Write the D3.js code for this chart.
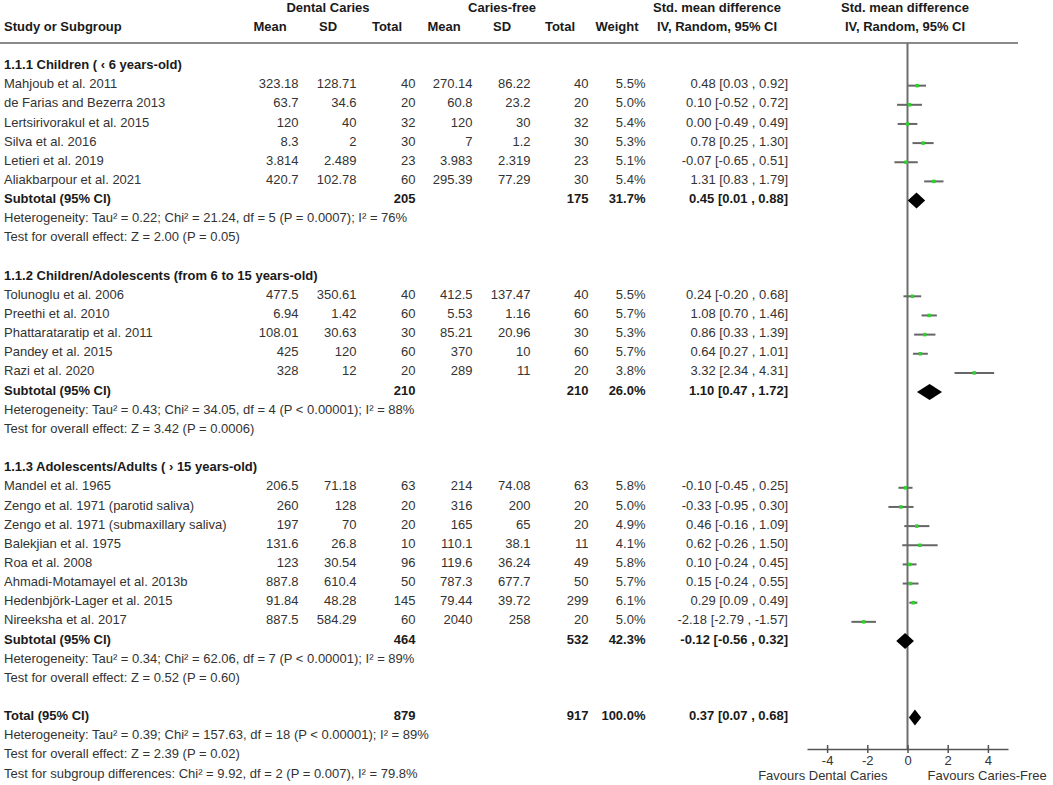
<!DOCTYPE html>
<html>
<head>
<meta charset="utf-8">
<script src="https://cdn.jsdelivr.net/npm/d3@7"></script>
<style>
  body { margin: 0; background: #fff; }
  svg text { font-family: "Liberation Sans", Arial, sans-serif; font-size: 13px; fill: #333; }
  svg text.b { font-weight: bold; fill: #1a1a1a; }
</style>
</head>
<body>
<script>
const groupNames = ["1.1.1 Children ( \u2039 6 years-old)", "1.1.2 Children/Adolescents (from 6 to 15 years-old)", "1.1.3 Adolescents/Adults ( \u203a 15 years-old)"];

const studies = ["Mahjoub et al. 2011", "de Farias and Bezerra 2013", "Lertsirivorakul et al. 2015", "Silva et al. 2016", "Letieri et al. 2019", "Aliakbarpour et al. 2021",
  "Tolunoglu et al. 2006", "Preethi et al. 2010", "Phattarataratip et al. 2011", "Pandey et al. 2015", "Razi et al. 2020",
  "Mandel et al. 1965", "Zengo et al. 1971 (parotid saliva)", "Zengo et al. 1971 (submaxillary saliva)", "Balekjian et al. 1975", "Roa et al. 2008", "Ahmadi-Motamayel et al. 2013b", "Hedenbj\u00f6rk-Lager et al. 2015", "Nireeksha et al. 2017"];
const studyGroup = [0, 0, 0, 0, 0, 0, 1, 1, 1, 1, 1, 2, 2, 2, 2, 2, 2, 2, 2];

const meanDC = [323.18, 63.7, 120, 8.3, 3.814, 420.7, 477.5, 6.94, 108.01, 425, 328, 206.5, 260, 197, 131.6, 123, 887.8, 91.84, 887.5];
const sdDC = [128.71, 34.6, 40, 2, 2.489, 102.78, 350.61, 1.42, 30.63, 120, 12, 71.18, 128, 70, 26.8, 30.54, 610.4, 48.28, 584.29];
const nDC = [40, 20, 32, 30, 23, 60, 40, 60, 30, 60, 20, 63, 20, 20, 10, 96, 50, 145, 60];
const meanCF = [270.14, 60.8, 120, 7, 3.983, 295.39, 412.5, 5.53, 85.21, 370, 289, 214, 316, 165, 110.1, 119.6, 787.3, 79.44, 2040];
const sdCF = [86.22, 23.2, 30, 1.2, 2.319, 77.29, 137.47, 1.16, 20.96, 10, 11, 74.08, 200, 65, 38.1, 36.24, 677.7, 39.72, 258];
const nCF = [40, 20, 32, 30, 23, 30, 40, 60, 30, 60, 20, 63, 20, 20, 11, 49, 50, 299, 20];
const weight = [5.5, 5.0, 5.4, 5.3, 5.1, 5.4, 5.5, 5.7, 5.3, 5.7, 3.8, 5.8, 5.0, 4.9, 4.1, 5.8, 5.7, 6.1, 5.0];
const smd = [0.48, 0.10, 0.00, 0.78, -0.07, 1.31, 0.24, 1.08, 0.86, 0.64, 3.32, -0.10, -0.33, 0.46, 0.62, 0.10, 0.15, 0.29, -2.18];
const smdLo = [0.03, -0.52, -0.49, 0.25, -0.65, 0.83, -0.20, 0.70, 0.33, 0.27, 2.34, -0.45, -0.95, -0.16, -0.26, -0.24, -0.24, 0.09, -2.79];
const smdHi = [0.92, 0.72, 0.49, 1.30, 0.51, 1.79, 0.68, 1.46, 1.39, 1.01, 4.31, 0.25, 0.30, 1.09, 1.50, 0.45, 0.55, 0.49, -1.57];

const subTotalDC = [205, 210, 464];
const subTotalCF = [175, 210, 532];
const subWeight = [31.7, 26.0, 42.3];
const subSmd = [0.45, 1.10, -0.12];
const subLo = [0.01, 0.47, -0.56];
const subHi = [0.88, 1.72, 0.32];
const subHet = ["Heterogeneity: Tau\u00b2 = 0.22; Chi\u00b2 = 21.24, df = 5 (P = 0.0007); I\u00b2 = 76%",
  "Heterogeneity: Tau\u00b2 = 0.43; Chi\u00b2 = 34.05, df = 4 (P < 0.00001); I\u00b2 = 88%",
  "Heterogeneity: Tau\u00b2 = 0.34; Chi\u00b2 = 62.06, df = 7 (P < 0.00001); I\u00b2 = 89%"];
const subTest = ["Test for overall effect: Z = 2.00 (P = 0.05)", "Test for overall effect: Z = 3.42 (P = 0.0006)", "Test for overall effect: Z = 0.52 (P = 0.60)"];

const totalDC = 879, totalCF = 917, totalWeight = 100.0;
const totalSmd = 0.37, totalLo = 0.07, totalHi = 0.68;
const totalNotes = ["Heterogeneity: Tau\u00b2 = 0.39; Chi\u00b2 = 157.63, df = 18 (P < 0.00001); I\u00b2 = 89%",
  "Test for overall effect: Z = 2.39 (P = 0.02)",
  "Test for subgroup differences: Chi\u00b2 = 9.92, df = 2 (P = 0.007), I\u00b2 = 79.8%"];

const xTicks = [-4, -2, 0, 2, 4];

const W = 1053;
const H = 785;
const top0 = 64.5;
const rowH = 19.15;
const markDy = 2;
const axisY = 749;
// column header centres; numbers sit right-aligned a bit further right
const colX = [270, 328, 387, 444, 502, 560];
const numShift = 28.5;
const weightX = 617;
const ciX = 717;
const ciRight = 788;
const plotX = 905;

const svg = d3.select("body")
  .append("svg")
  .attr("width", W)
  .attr("height", H);

const x = d3.scaleLinear()
  .domain([-5, 5])
  .range([807, 1008]);

function txt(xp, yp, s, anchor, bold) {
  return svg.append("text")
    .attr("x", xp)
    .attr("y", yp)
    .attr("dy", "0.35em")
    .attr("text-anchor", anchor)
    .attr("class", bold ? "b" : null)
    .text(s);
}

// headers
txt(328, 7, "Dental Caries", "middle", true);
txt(502, 7, "Caries-free", "middle", true);
txt(ciX, 7, "Std. mean difference", "middle", true);
txt(plotX, 7, "Std. mean difference", "middle", true);
txt(4, 26, "Study or Subgroup", "start", true);
["Mean", "SD", "Total", "Mean", "SD", "Total"].forEach((h, i) => txt(colX[i], 26, h, "middle", true));
txt(weightX, 26, "Weight", "middle", true);
txt(ciX, 26, "IV, Random, 95% CI", "middle", true);
txt(plotX, 26, "IV, Random, 95% CI", "middle", true);

svg.append("line")
  .attr("x1", 0).attr("x2", 1018)
  .attr("y1", 43).attr("y2", 43)
  .attr("stroke", "#8a8a8a")
  .attr("stroke-width", 2);

// zero line
svg.append("line")
  .attr("x1", x(0)).attr("x2", x(0))
  .attr("y1", 43).attr("y2", axisY)
  .attr("stroke", "#6e6e6e")
  .attr("stroke-width", 2);

// build rows
const rows = [];
let k = 0;
groupNames.forEach((g, gi) => {
  rows.push({ type: "head", k: k++, text: g });
  studies.forEach((s, i) => {
    if (studyGroup[i] === gi) rows.push({ type: "study", k: k++, i: i });
  });
  rows.push({ type: "sub", k: k++, gi: gi });
  rows.push({ type: "note", k: k++, text: subHet[gi] });
  rows.push({ type: "note", k: k++, text: subTest[gi] });
  k++;
});
rows.push({ type: "total", k: k++ });
totalNotes.forEach(t => rows.push({ type: "note", k: k++, text: t }));

const ciText = (m, l, h) => `${m.toFixed(2)} [${l.toFixed(2)} , ${h.toFixed(2)}]`;

function diamond(yc, m, l, h) {
  const hh = 8;
  svg.append("path")
    .attr("d", `M${x(l)},${yc} L${x(m)},${yc - hh} L${x(h)},${yc} L${x(m)},${yc + hh} Z`)
    .attr("fill", "#000");
}

rows.forEach(r => {
  const y = top0 + r.k * rowH;
  if (r.type === "head") {
    txt(4, y, r.text, "start", true);
  } else if (r.type === "note") {
    txt(4, y, r.text, "start", false);
  } else if (r.type === "study") {
    const i = r.i;
    txt(4, y, studies[i], "start", false);
    [meanDC[i], sdDC[i], nDC[i], meanCF[i], sdCF[i], nCF[i]].forEach((v, c) => {
      txt(colX[c] + numShift, y, String(v), "end", false);
    });
    txt(weightX + numShift, y, weight[i].toFixed(1) + "%", "end", false);
    txt(ciRight, y, ciText(smd[i], smdLo[i], smdHi[i]), "end", false);
    svg.append("line")
      .attr("x1", x(smdLo[i])).attr("x2", x(smdHi[i]))
      .attr("y1", y + markDy).attr("y2", y + markDy)
      .attr("stroke", "#666")
      .attr("stroke-width", 2);
    svg.append("rect")
      .attr("x", x(smd[i]) - 1.75)
      .attr("y", y + markDy - 1.75)
      .attr("width", 3.5).attr("height", 3.5)
      .attr("fill", "#2ed12e");
  } else if (r.type === "sub") {
    const g = r.gi;
    txt(4, y, "Subtotal (95% CI)", "start", true);
    txt(colX[2] + numShift, y, String(subTotalDC[g]), "end", true);
    txt(colX[5] + numShift, y, String(subTotalCF[g]), "end", true);
    txt(weightX + numShift, y, subWeight[g].toFixed(1) + "%", "end", true);
    txt(ciRight, y, ciText(subSmd[g], subLo[g], subHi[g]), "end", true);
    diamond(y + markDy, subSmd[g], subLo[g], subHi[g]);
  } else if (r.type === "total") {
    txt(4, y, "Total (95% CI)", "start", true);
    txt(colX[2] + numShift, y, String(totalDC), "end", true);
    txt(colX[5] + numShift, y, String(totalCF), "end", true);
    txt(weightX + numShift, y, totalWeight.toFixed(1) + "%", "end", true);
    txt(ciRight, y, ciText(totalSmd, totalLo, totalHi), "end", true);
    diamond(y + markDy, totalSmd, totalLo, totalHi);
  }
});

// axis
const axis = d3.axisBottom(x)
  .tickValues(xTicks)
  .tickFormat(d => String(d))
  .tickSizeInner(4)
  .tickSizeOuter(0)
  .tickPadding(3);

const gAxis = svg.append("g")
  .attr("transform", `translate(0,${axisY})`)
  .call(axis);

gAxis.select(".domain").attr("stroke", "#555").attr("stroke-width", 1.5);
gAxis.selectAll(".tick line").attr("y1", -4).attr("y2", 4).attr("stroke", "#555").attr("stroke-width", 1.5);
gAxis.selectAll(".tick text")
  .attr("font-family", null)
  .attr("font-size", null)
  .style("font-family", "\"Liberation Sans\", Arial, sans-serif")
  .style("font-size", "13px")
  .style("fill", "#333");

svg.append("text")
  .attr("x", x(0) - 20).attr("y", 775).attr("dy", "0.35em")
  .attr("text-anchor", "end")
  .text("Favours Dental Caries");
svg.append("text")
  .attr("x", x(0) + 20).attr("y", 775).attr("dy", "0.35em")
  .attr("text-anchor", "start")
  .text("Favours Caries-Free");
</script>
</body>
</html>
